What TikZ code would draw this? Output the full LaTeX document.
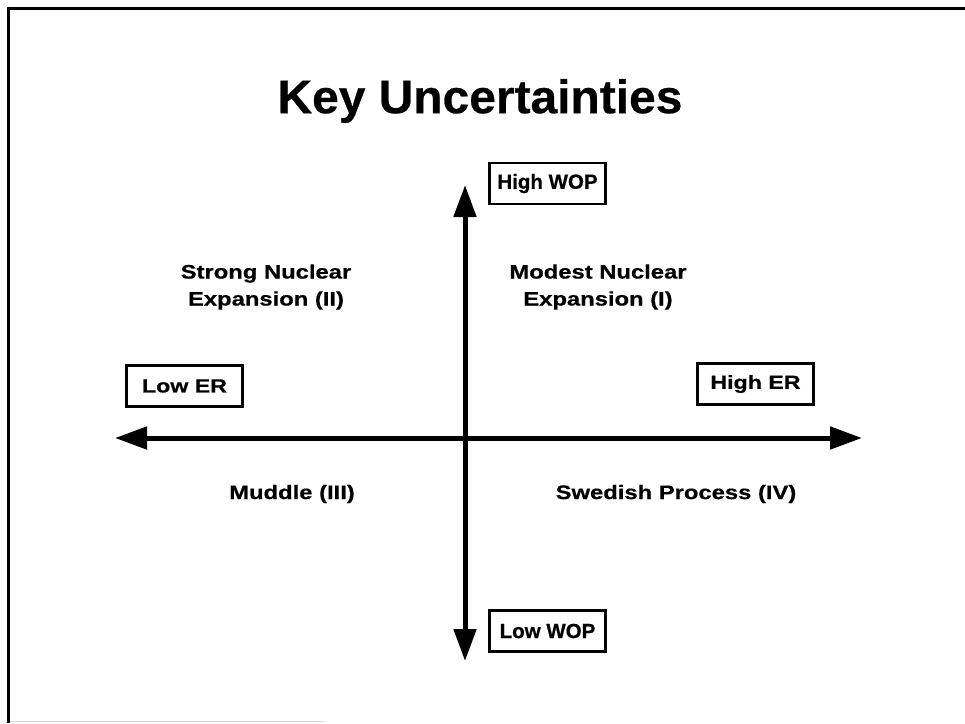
\documentclass[tikz,border=0pt]{standalone}
\usepackage{fontspec}
\setmainfont{Liberation Sans}
\newfontfamily\wideheavy{Liberation Sans}[FakeStretch=1.22, FakeBold=0.6]
\newfontfamily\narrowheavy{Liberation Sans}[FakeStretch=1.0, FakeBold=0.6]
\newfontfamily\titleheavy{Liberation Sans}[FakeStretch=1.02, FakeBold=0.5]
\usetikzlibrary{arrows.meta}
\tikzset{
  lbl/.style={font=\wideheavy\bfseries\fontsize{19.5}{27}\selectfont, align=center, inner sep=0pt},
  tagbox/.style={draw, line width=2.6pt, font=\wideheavy\bfseries\fontsize{19}{24}\selectfont, minimum width=116pt, minimum height=41pt, inner sep=2pt},
  wopbox/.style={tagbox, font=\narrowheavy\bfseries\fontsize{20.5}{24}\selectfont},
  axis/.style={line width=5pt, {Triangle[length=32pt,width=22pt]}-{Triangle[length=32pt,width=22pt]}},
  frame/.style={line width=3pt}
}
\begin{document}
\begin{tikzpicture}[x=1pt,y=-1pt]
\useasboundingbox (0,0) rectangle (965,723);
% slide frame
\coordinate (fTL) at (8.5,8);
\coordinate (fTR) at (965,8);
\coordinate (fBL) at (8.5,723);
\draw[frame] (fTR) -- (fTL) -- (fBL);
\coordinate (gA) at (10,721.5);
\coordinate (gB) at (325,721.5);
\draw[black!15, line width=1pt] (gA) -- (gB);
% title
\node[font=\titleheavy\bfseries\fontsize{47}{50}\selectfont, inner sep=0pt] (title) at (480,101) {Key Uncertainties};
% axes
\coordinate (L) at (115,438);
\coordinate (R) at (862,438);
\coordinate (T) at (465,185);
\coordinate (B) at (465,661);
\draw[axis] (L) -- (R);
\draw[axis] (B) -- (T);
% boxes
\node[wopbox] (hwop) at (547.5,183.5) {High WOP};
\node[wopbox] (lwop) at (547.5,631) {Low WOP};
\node[tagbox] (ler) at (184.5,386) {Low ER};
\node[tagbox] (her) at (755.5,384) {High ER};
% quadrant labels
\node[lbl] (q2) at (266,287) {Strong Nuclear\\Expansion (II)};
\node[lbl] (q1) at (598,287) {Modest Nuclear\\Expansion (I)};
\node[lbl] (q3) at (292,494) {Muddle (III)};
\node[lbl] (q4) at (676,494) {Swedish Process (IV)};
\end{tikzpicture}
\end{document}
